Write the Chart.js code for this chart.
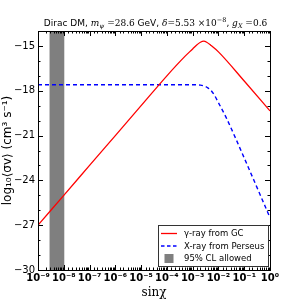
<!DOCTYPE html>
<html>
<head>
<meta charset="utf-8">
<script src="https://cdn.jsdelivr.net/npm/chart.js@4/dist/chart.umd.min.js"></script>
<style>
  html, body { margin: 0; padding: 0; background: #fff; }
  #wrap { width: 300px; height: 300px; }
</style>
</head>
<body>
<div id="wrap"><canvas id="chart"></canvas></div>
<script>
// sin(chi) values and log10<sigma v>
const gammaX = [1e-9, 1e-8, 1e-7, 1e-6, 1e-5, 1e-4, 5e-4, 1e-3, 1.4e-3, 2e-3, 2.7e-3, 3.5e-3, 5e-3, 1e-2, 1e-1, 1];
const gammaY = [-27.0, -25.0, -23.0, -21.0, -19.0, -17.0, -15.7, -15.2, -14.95, -14.75, -14.68, -14.75, -14.95, -15.4, -17.35, -19.35];

const xrayX = [1e-9, 1e-6, 1e-3, 2e-3, 3e-3, 4e-3, 5e-3, 7e-3, 1e-2, 2e-2, 1e-1, 3e-1, 1];
const xrayY = [-17.6, -17.6, -17.6, -17.62, -17.7, -17.82, -17.95, -18.3, -18.8, -19.8, -22.5, -24.4, -26.5];

// 95% CL allowed band in sin(chi)
const bandX = [2.75e-9, 1.07e-8];

const legendLabels = ["\u03b3-ray from GC", "X-ray from Perseus", "95% CL allowed"];

const yMin = -30, yMax = -14;

const SANS = '"DejaVu Sans"';
const SERIF = '"DejaVu Serif"';

// title pieces: text, font, baseline shift
const titleParts = [
    ['Dirac DM, ', '9px ' + SANS, 0],
    ['m', 'italic 9px ' + SERIF, 0],
    ['\u03c8', 'italic 6.5px ' + SERIF, 2],
    [' =28.6', '9px ' + SERIF, 0],
    [' GeV, ', '9px ' + SANS, 0],
    ['\u03b4', 'italic 9px ' + SERIF, 0],
    ['=5.53 \u00d710', '9px ' + SERIF, 0],
    ['\u22128', '6.5px ' + SERIF, -4],
    [', ', '9px ' + SANS, 0],
    ['g', 'italic 9px ' + SERIF, 0],
    ['X', 'italic 6.5px ' + SERIF, 2],
    [' =0.6', '9px ' + SERIF, 0]
];

function toPoints(xs, ys) {
    return xs.map((x, i) => ({ x: x, y: ys[i] }));
}

// superscript digits for the tick labels
const supMap = { '-': '\u207b', '0': '\u2070', '1': '\u00b9', '2': '\u00b2', '3': '\u00b3', '4': '\u2074',
                 '5': '\u2075', '6': '\u2076', '7': '\u2077', '8': '\u2078', '9': '\u2079' };
function sup(n) {
    return String(n).split('').map(c => supMap[c]).join('');
}

function isDecade(v) {
    const e = Math.log10(v);
    return Math.abs(e - Math.round(e)) < 1e-6;
}

// frame, inward ticks on all sides, title and the legend box
const framePlugin = {
    id: 'frame',
    afterDatasetsDraw(chart) {
        const ctx = chart.ctx;
        const a = chart.chartArea;
        const xs = chart.scales.x, ys = chart.scales.y;
        ctx.save();
        ctx.strokeStyle = '#000';
        ctx.lineWidth = 1;
        ctx.beginPath();
        xs.ticks.forEach(t => {
            const px = Math.round(xs.getPixelForValue(t.value)) + 0.5;
            const len = isDecade(t.value) ? 5 : 2.5;
            ctx.moveTo(px, a.bottom); ctx.lineTo(px, a.bottom - len);
            ctx.moveTo(px, a.top); ctx.lineTo(px, a.top + len);
        });
        ys.ticks.forEach(t => {
            const py = Math.round(ys.getPixelForValue(t.value)) + 0.5;
            const len = t.value % 3 === 0 ? 5 : 2.5;
            ctx.moveTo(a.left, py); ctx.lineTo(a.left + len, py);
            ctx.moveTo(a.right, py); ctx.lineTo(a.right - len, py);
        });
        ctx.stroke();
        ctx.strokeRect(Math.round(a.left) + 0.5, Math.round(a.top) + 0.5,
                       Math.round(a.right - a.left), Math.round(a.bottom - a.top));

        // title
        ctx.fillStyle = '#000';
        ctx.textBaseline = 'alphabetic';
        let w = 0;
        titleParts.forEach(p => { ctx.font = p[1]; w += ctx.measureText(p[0]).width; });
        let tx = (a.left + a.right) / 2 + 1.5 - w / 2;
        titleParts.forEach(p => {
            ctx.font = p[1];
            ctx.fillText(p[0], tx, 26 + p[2]);
            tx += ctx.measureText(p[0]).width;
        });

        // legend
        const lx = 158, ly = 225, lw = 110, lh = 41;
        ctx.fillStyle = '#fff';
        ctx.fillRect(lx, ly, lw, lh);
        ctx.strokeStyle = '#333';
        ctx.strokeRect(lx + 0.5, ly + 0.5, lw, lh);
        ctx.font = '8.5px ' + SANS;
        ctx.textBaseline = 'middle';
        const rows = [233.5, 246, 258.5];
        ctx.lineWidth = 1.3;
        ctx.strokeStyle = '#ff0000';
        ctx.beginPath(); ctx.moveTo(161, rows[0]); ctx.lineTo(177, rows[0]); ctx.stroke();
        ctx.strokeStyle = '#0000ff';
        ctx.setLineDash([3.5, 2.5]);
        ctx.beginPath(); ctx.moveTo(161, rows[1]); ctx.lineTo(177, rows[1]); ctx.stroke();
        ctx.setLineDash([]);
        ctx.fillStyle = '#7f7f7f';
        ctx.fillRect(164.5, rows[2] - 4.5, 9, 9);
        ctx.fillStyle = '#000';
        legendLabels.forEach((s, i) => ctx.fillText(s, 184, rows[i] + 0.5));
        ctx.restore();
    }
};

new Chart(document.getElementById('chart'), {
    type: 'scatter',
    data: {
        datasets: [
            {
                label: legendLabels[0],
                data: toPoints(gammaX, gammaY),
                showLine: true,
                borderColor: '#ff0000',
                borderWidth: 1.3,
                pointRadius: 0,
                cubicInterpolationMode: 'monotone'
            },
            {
                label: legendLabels[1],
                data: toPoints(xrayX, xrayY),
                showLine: true,
                borderColor: '#0000ff',
                borderWidth: 1.4,
                borderDash: [4, 3],
                pointRadius: 0,
                cubicInterpolationMode: 'monotone'
            },
            {
                label: legendLabels[2],
                data: toPoints(bandX, [yMax, yMax]),
                showLine: true,
                borderWidth: 0,
                borderColor: 'rgba(0,0,0,0)',
                backgroundColor: '#7f7f7f',
                pointRadius: 0,
                fill: 'start'
            }
        ]
    },
    options: {
        responsive: true,
        maintainAspectRatio: false,
        animation: false,
        layout: { padding: { left: 0, right: 30, top: 31, bottom: 0 } },
        plugins: {
            legend: { display: false },
            tooltip: { enabled: false },
            title: { display: false }
        },
        scales: {
            x: {
                type: 'logarithmic',
                min: 1e-9,
                max: 1,
                border: { display: false },
                grid: { display: false, drawTicks: false },
                ticks: {
                    autoSkip: false,
                    maxRotation: 0,
                    minRotation: 0,
                    padding: 2,
                    color: '#000',
                    font: { family: 'DejaVu Sans', size: 10, weight: 'bold' },
                    callback: v => isDecade(v) ? '10' + sup(Math.round(Math.log10(v))) : ''
                },
                title: {
                    display: true,
                    text: 'sin\u03c7',
                    color: '#000',
                    font: { family: 'DejaVu Serif', size: 12, lineHeight: 1.2 },
                    padding: 0
                },
                afterFit: s => { s.height = 30; }
            },
            y: {
                min: yMin,
                max: yMax,
                border: { display: false },
                grid: { display: false, drawTicks: false },
                ticks: {
                    stepSize: 1,
                    autoSkip: false,
                    padding: 3,
                    color: '#000',
                    font: { family: 'DejaVu Sans', size: 10 },
                    callback: v => v % 3 === 0 ? '\u2212' + Math.abs(v) : ''
                },
                title: {
                    display: true,
                    text: 'log\u2081\u2080\u27e8\u03c3v\u27e9 (cm\u00b3 s\u207b\u00b9)',
                    color: '#000',
                    font: { family: 'DejaVu Sans', size: 12, lineHeight: 1.2 },
                    padding: 1
                },
                afterFit: s => { s.width = 38; }
            }
        }
    },
    plugins: [framePlugin]
});
</script>
</body>
</html>
